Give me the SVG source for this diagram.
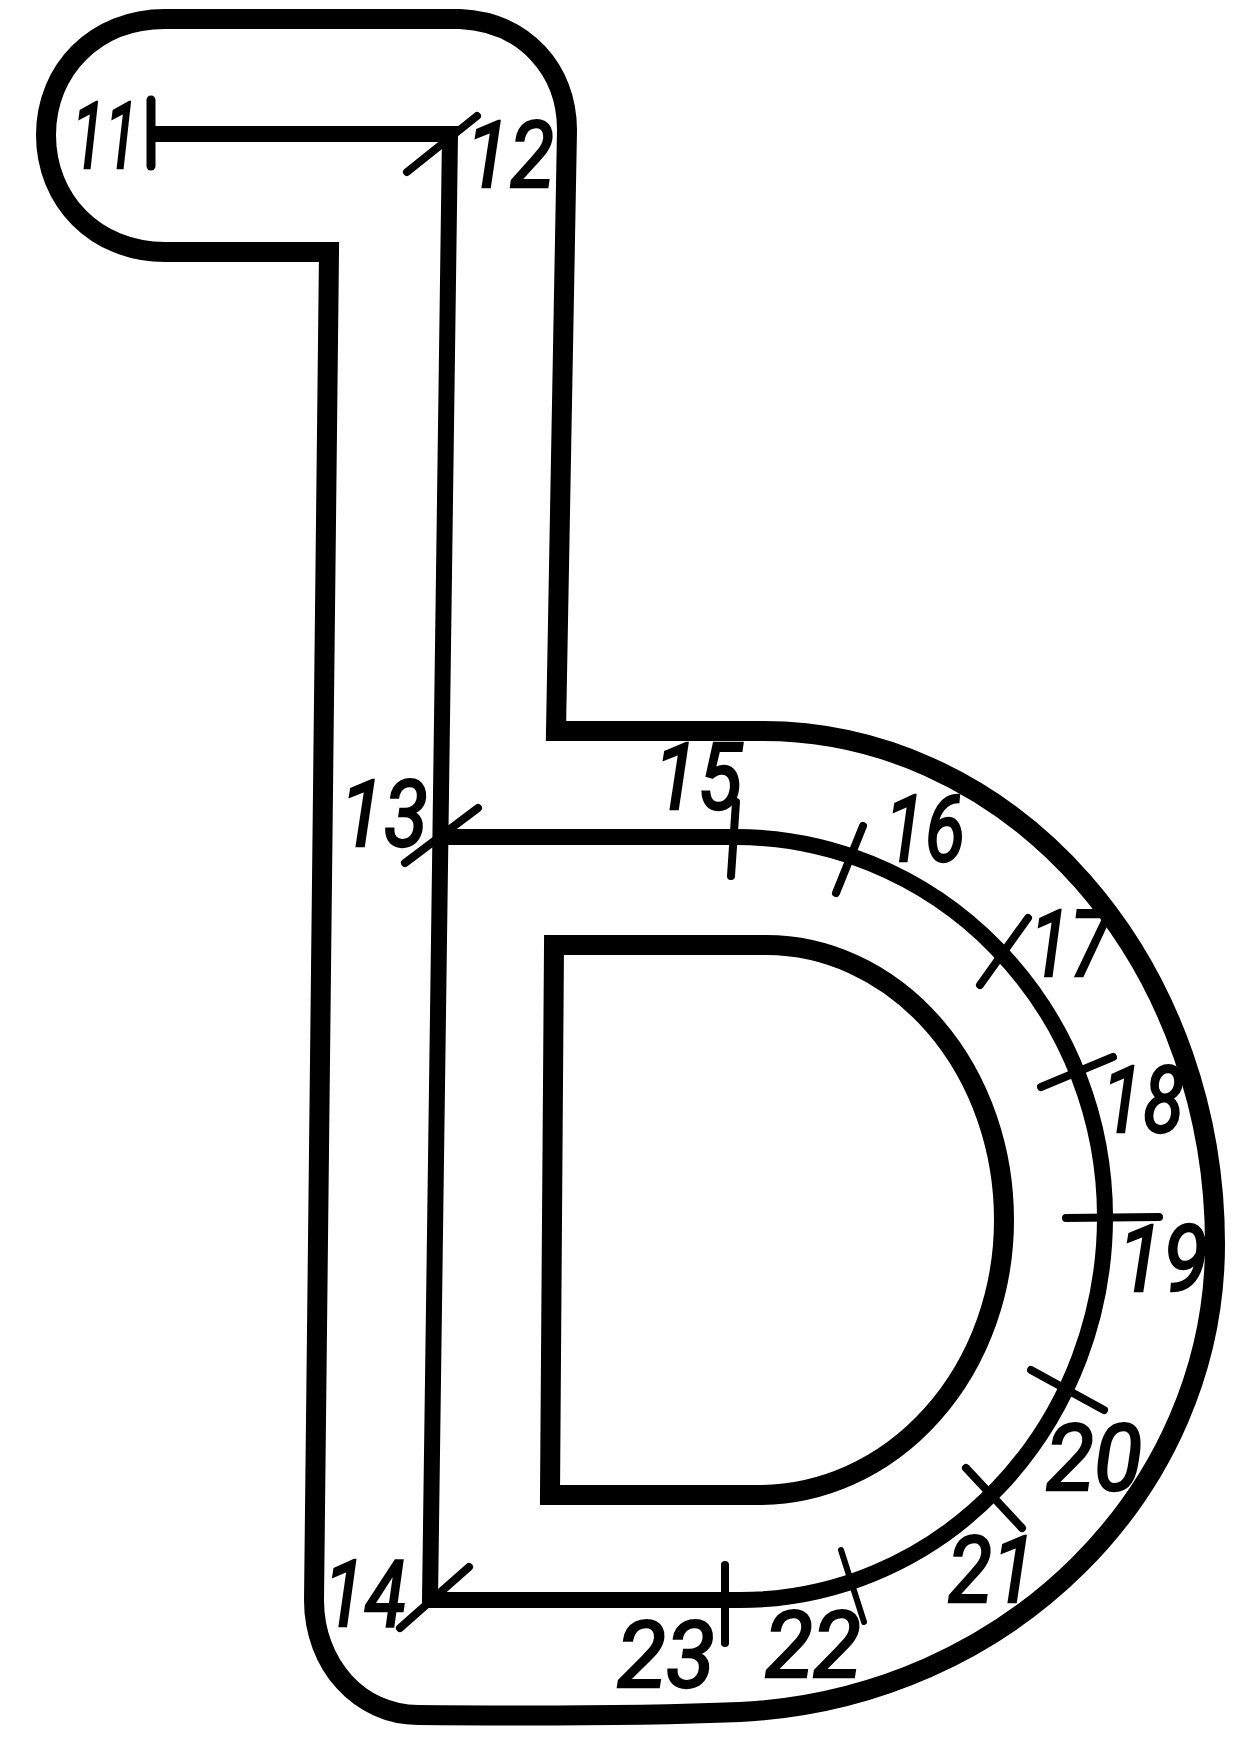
<svg xmlns="http://www.w3.org/2000/svg" width="1253" height="1757" viewBox="0 0 1253 1757">
<style>
.c{fill:none;stroke:#000;stroke-linejoin:miter}
.o{stroke-width:20}
.m{stroke-width:16}
.t{stroke:#000;stroke-width:8;stroke-linecap:round;fill:none}
text{font-family:Roboto,"Liberation Sans",Arial,sans-serif;font-style:italic;font-size:92px;fill:#000;stroke:#000;stroke-width:2.5}
</style>
<rect width="1253" height="1757" fill="#fff"/>
<g id="outline">
<path class="c o" d="M329 252H165C95 252 46 200 46 135C46 70 95 19 165 19H460C525 22 567 70 567 130L556 731H763A452 513 0 0 1 1215 1244C1215 1490 1010 1698 740 1712C640 1716 520 1716 418 1715C360 1715 314 1665 314 1600Z"/>
</g>
<g id="inner">
<path class="c o" d="M554 945H766A238 275 0 0 1 1004 1220A245 275 0 0 1 759 1495H550Z"/>
</g>
<g id="track">
<path class="c m" d="M151 134H450L430 1600H740A365 383 0 0 0 1105 1217A370 380 0 0 0 735 837H437"/>
</g>
<g id="ticks">
<path class="t" style="stroke-width:9" d="M151 100V166"/>
<path class="t" d="M477 116L407 172"/>
<path class="t" d="M478 808L405 863"/>
<path class="t" d="M469 1567L400 1628"/>
<path class="t" d="M736 802L731 876"/>
<path class="t" d="M863 826L836 893"/>
<path class="t" d="M1028 918L980 985"/>
<path class="t" d="M1113 1057L1041 1087"/>
<path class="t" d="M1066 1218L1159 1217"/>
<path class="t" d="M1031 1370L1104 1410"/>
<path class="t" d="M966 1468L1022 1528"/>
<path class="t" style="stroke-width:6" d="M841 1550L864 1622"/>
<path class="t" d="M725 1565V1643"/>
</g>
<g id="labels">
<text x="72" y="168" textLength="66" lengthAdjust="spacingAndGlyphs">11</text>
<text x="466" y="187" textLength="88" lengthAdjust="spacingAndGlyphs">12</text>
<text x="340" y="846" textLength="88" lengthAdjust="spacingAndGlyphs">13</text>
<text x="324" y="1626" textLength="82" lengthAdjust="spacingAndGlyphs">14</text>
<text x="654" y="809" textLength="88" lengthAdjust="spacingAndGlyphs">15</text>
<text x="885" y="861" textLength="80" lengthAdjust="spacingAndGlyphs">16</text>
<text x="1030" y="976" textLength="80" lengthAdjust="spacingAndGlyphs">17</text>
<text x="1102" y="1132" textLength="82" lengthAdjust="spacingAndGlyphs">18</text>
<text x="1118" y="1291" textLength="90" lengthAdjust="spacingAndGlyphs">19</text>
<text x="1046" y="1490" textLength="96" lengthAdjust="spacingAndGlyphs">20</text>
<text x="948" y="1602" textLength="88" lengthAdjust="spacingAndGlyphs">21</text>
<text x="765" y="1677" textLength="96" lengthAdjust="spacingAndGlyphs">22</text>
<text x="617" y="1687" textLength="98" lengthAdjust="spacingAndGlyphs">23</text>
</g>
</svg>
